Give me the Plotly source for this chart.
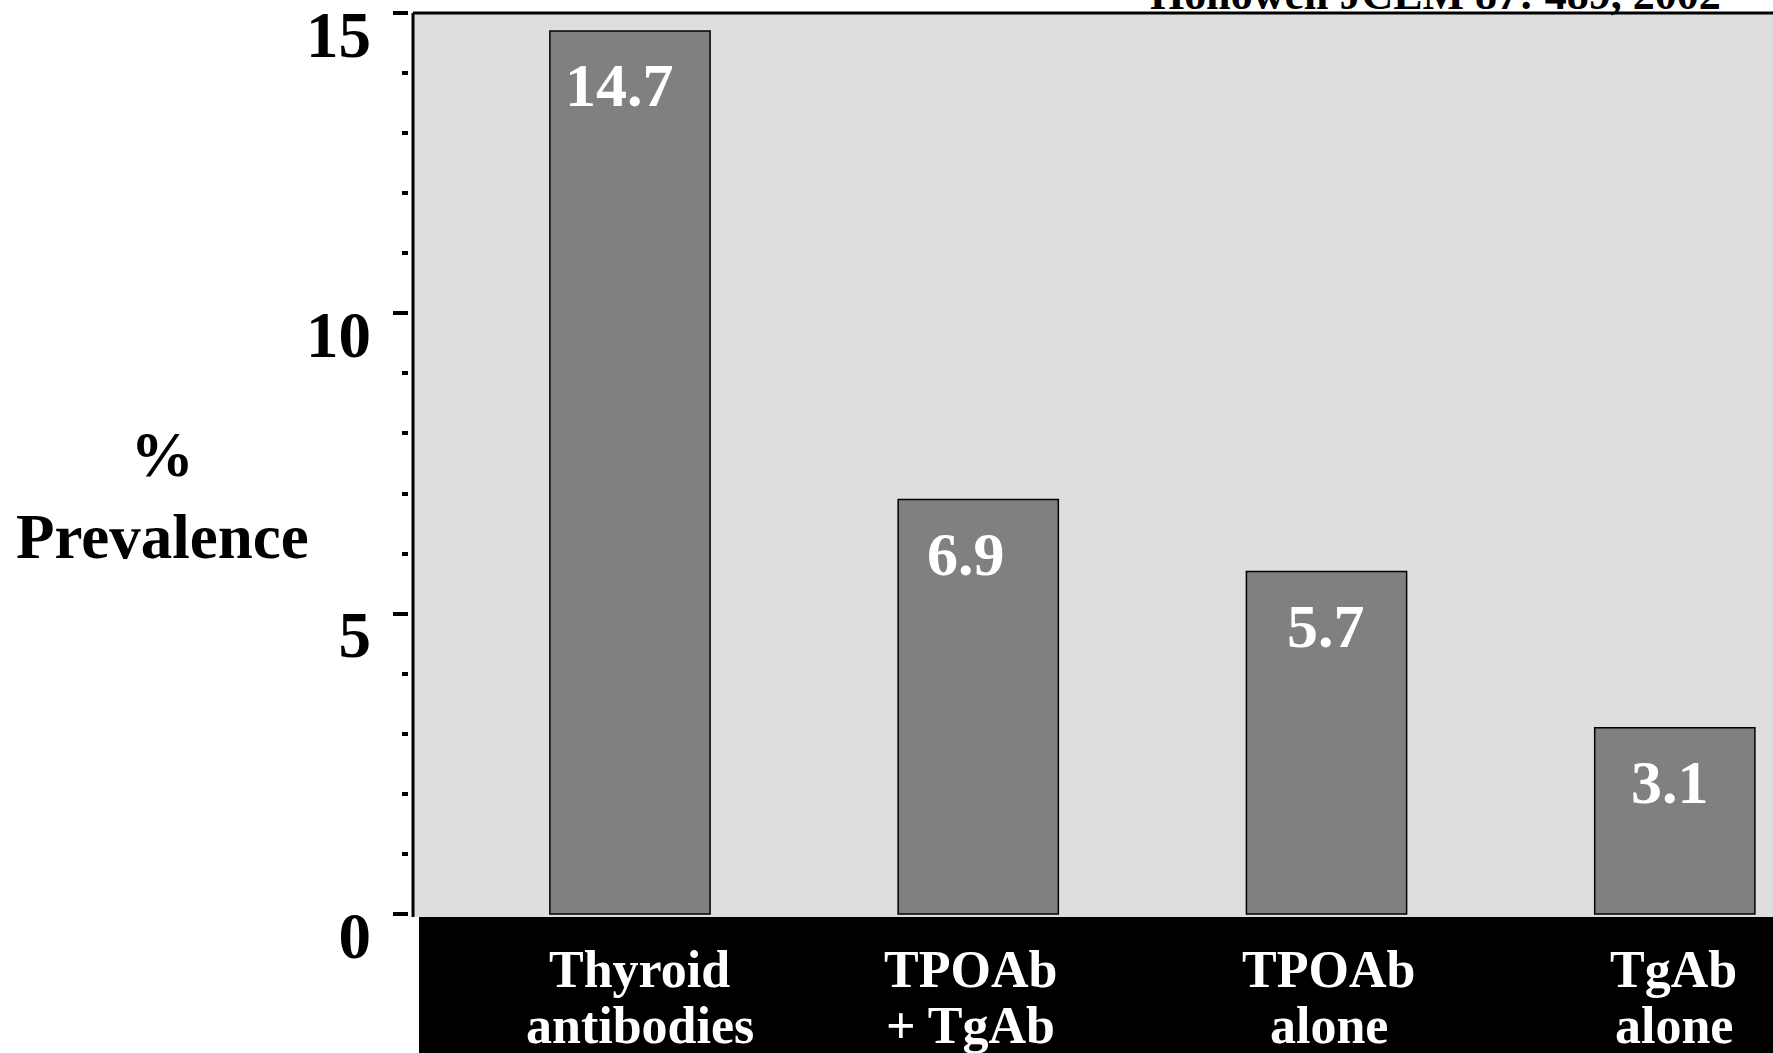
import plotly.graph_objects as go

categories = ["Thyroid<br>antibodies", "TPOAb<br>+ TgAb", "TPOAb<br>alone", "TgAb<br>alone"]
values = [14.7, 6.9, 5.7, 3.1]
value_labels = ["14.7", "6.9", "5.7", "3.1"]
y_tickvals = [0, 5, 10, 15]
y_ticktext = ["0", "5", "10", "15"]
y_title = "%<br>Prevalence"
citation = "Hollowell JCEM 87: 489, 2002"

FONT = "Liberation Serif"
W, H = 1773, 1053
ML, MT, MB = 408, 13, 136
plot_w = W - ML
plot_h = H - MT - MB

# small horizontal nudges (pixels) for text placement
value_xshift = [-10, -12, -1, -5]
cat_xshift = [10, -8, 2, -1]

fig = go.Figure()
fig.add_trace(go.Bar(
    x=list(range(len(categories))), y=values,
    marker=dict(color="#808080", line=dict(color="black", width=1.5)),
    width=0.46, hoverinfo="skip", showlegend=False,
))

annotations = []
for i, (v, t) in enumerate(zip(values, value_labels)):
    annotations.append(dict(x=i, y=v, xref="x", yref="y", text="<b>%s</b>" % t,
                            showarrow=False, yanchor="middle", yshift=-54,
                            xshift=value_xshift[i],
                            font=dict(family=FONT, size=62, color="white")))
for i, c in enumerate(categories):
    for j, line in enumerate(c.split("<br>")):
        annotations.append(dict(x=i, y=0, xref="x", yref="paper", text="<b>%s</b>" % line,
                                showarrow=False, yanchor="middle", yshift=-52 - 56 * j,
                                xshift=cat_xshift[i],
                                font=dict(family=FONT, size=52, color="white")))
annotations.append(dict(x=(162 - ML) / plot_w, y=(H - MB - 496) / plot_h, xref="paper", yref="paper",
                        text="<b>%s</b>" % y_title, showarrow=False, xanchor="center", yanchor="middle",
                        font=dict(family=FONT, size=63, color="black")))
annotations.append(dict(x=(1723 - ML) / plot_w, y=1, xref="paper", yref="paper",
                        text="<b>%s</b>" % citation, showarrow=False, xanchor="right", yanchor="bottom",
                        yshift=-8, font=dict(family=FONT, size=44, color="black")))

shapes = [
    dict(type="rect", xref="x domain", yref="paper", x0=6 / (W - 413), x1=1.02,
         y0=-0.2, y1=0, fillcolor="black", line=dict(width=0), layer="above"),
    dict(type="line", xref="x domain", yref="y domain", x0=0, x1=1.01, y0=1, y1=1,
         line=dict(color="black", width=3)),
    dict(type="line", xref="x domain", yref="y domain", x0=0, x1=0, y0=0, y1=1,
         line=dict(color="black", width=3)),
]

fig.update_layout(
    width=W, height=H,
    margin=dict(l=ML, r=0, t=MT, b=MB, pad=0),
    paper_bgcolor="white", plot_bgcolor="#dedede",
    xaxis=dict(domain=[5 / plot_w, 1], range=[-0.623, 3.282], showticklabels=False,
               showgrid=False, zeroline=False, showline=False, ticks=""),
    yaxis=dict(range=[-0.05, 15.0], anchor="free", position=0, showgrid=False, zeroline=False,
               showline=False, tickvals=y_tickvals, ticktext=y_ticktext, ticks="outside",
               ticklen=15, tickwidth=4, tickcolor="black", ticklabelstandoff=9,
               ticklabelshift=21, ticklabeloverflow="allow",
               tickfont=dict(family=FONT, size=65, color="black", weight="bold"),
               minor=dict(dtick=1, ticks="outside", ticklen=6, tickwidth=4, tickcolor="black",
                          showgrid=False)),
    annotations=annotations, shapes=shapes,
    bargap=0.54,
)

fig.write_html("out.html")
